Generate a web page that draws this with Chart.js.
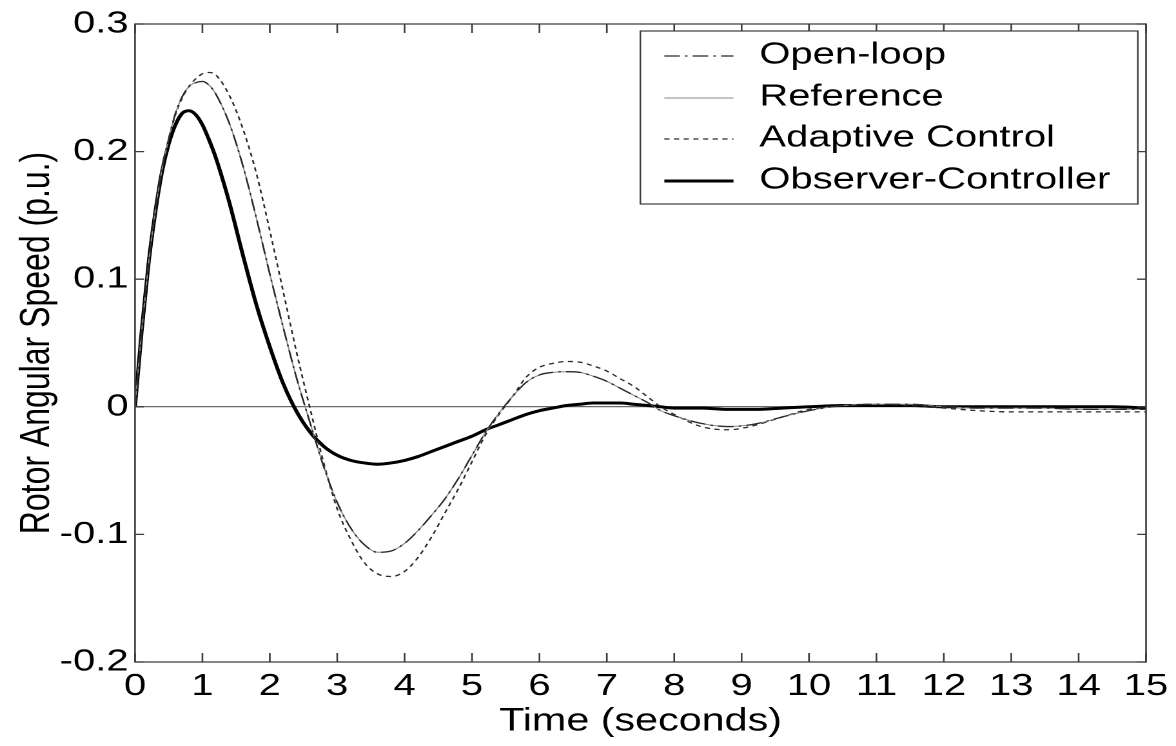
<!DOCTYPE html>
<html>
<head>
<meta charset="utf-8">
<script src="https://cdn.jsdelivr.net/npm/chart.js@4"></script>
<style>
html,body{margin:0;padding:0;background:#fff;overflow:hidden;}
#wrap{width:1176px;height:746px;overflow:hidden;background:#fff;}
canvas{display:block;transform-origin:0 0;transform:scaleX(1.2894737);}
</style>
</head>
<body>
<div id="wrap"><canvas id="c" width="912" height="746"></canvas></div>
<script>
// ---- data ----
const time = [0,0.1,0.2,0.3,0.4,0.5,0.6,0.7,0.8,0.9,1.0,1.1,1.2,1.4,1.6,1.8,2.0,2.2,2.4,2.6,2.8,3.0,3.2,3.4,3.6,3.8,4.0,4.2,4.4,4.6,4.8,5.0,5.2,5.4,5.6,5.8,6.0,6.2,6.4,6.6,6.8,7.0,7.2,7.4,7.6,7.8,8.0,8.4,8.8,9.2,9.6,10.0,10.5,11.0,11.5,12.0,12.5,13.0,13.5,14.0,14.5,15.0];

const openLoop = [0,0.060,0.112,0.153,0.186,0.210,0.230,0.243,0.251,0.254,0.255,0.252,0.245,0.222,0.189,0.148,0.104,0.062,0.022,-0.013,-0.047,-0.075,-0.095,-0.108,-0.114,-0.113,-0.107,-0.097,-0.085,-0.072,-0.056,-0.038,-0.020,-0.005,0.008,0.019,0.025,0.027,0.0275,0.027,0.024,0.020,0.0145,0.009,0.0035,-0.003,-0.007,-0.013,-0.0155,-0.0135,-0.008,-0.003,0.001,0.002,0.002,0.0,-0.001,-0.001,-0.001,-0.002,-0.002,-0.002];

const reference = [0,0.060,0.112,0.153,0.186,0.210,0.230,0.243,0.251,0.254,0.255,0.252,0.245,0.222,0.189,0.148,0.104,0.062,0.022,-0.013,-0.047,-0.075,-0.095,-0.108,-0.114,-0.113,-0.107,-0.097,-0.085,-0.072,-0.056,-0.038,-0.020,-0.005,0.008,0.019,0.025,0.027,0.0275,0.027,0.024,0.020,0.0145,0.009,0.0035,-0.003,-0.007,-0.013,-0.0155,-0.0135,-0.008,-0.003,0.001,0.002,0.002,0.0,-0.001,-0.001,-0.001,-0.002,-0.002,-0.002];

const adaptive = [0,0.060,0.112,0.153,0.186,0.210,0.229,0.242,0.251,0.257,0.261,0.262,0.260,0.244,0.218,0.183,0.138,0.090,0.042,-0.002,-0.044,-0.080,-0.104,-0.122,-0.131,-0.133,-0.129,-0.118,-0.102,-0.083,-0.064,-0.043,-0.022,-0.006,0.008,0.023,0.031,0.034,0.0355,0.035,0.032,0.028,0.022,0.016,0.008,0.000,-0.006,-0.0155,-0.018,-0.0145,-0.008,-0.002,0.001,0.002,0.001,-0.001,-0.003,-0.004,-0.004,-0.004,-0.004,-0.004];

const observer = [0,0.060,0.112,0.152,0.184,0.206,0.221,0.230,0.232,0.229,0.221,0.209,0.195,0.160,0.119,0.080,0.047,0.018,-0.004,-0.020,-0.031,-0.038,-0.042,-0.044,-0.045,-0.044,-0.042,-0.039,-0.035,-0.031,-0.027,-0.023,-0.018,-0.014,-0.010,-0.006,-0.003,-0.001,0.001,0.002,0.003,0.003,0.003,0.002,0.001,0.0,-0.001,-0.001,-0.002,-0.002,-0.001,0.0,0.001,0.001,0.001,0.0,0.0,0.0,0.0,0.0,0.0,-0.001];

const seriesLabels = ['Open-loop','Reference','Adaptive Control','Observer-Controller'];
const xTickLabels = ['0','1','2','3','4','5','6','7','8','9','10','11','12','13','14','15'];
const yTickLabels = ['-0.2','-0.1','0','0.1','0.2','0.3'];
const xTitle = 'Time (seconds)';
const yTitle = 'Rotor Angular Speed (p.u.)';

// ---- helpers ----
const pts = arr => time.map((t, i) => ({x: t, y: arr[i]}));
const FONT = '"Liberation Sans", Arial, Helvetica, sans-serif';

const axesFrame = {
  id: 'axesFrame',
  afterDatasetsDraw(chart) {
    const {ctx, chartArea: a, scales: {x, y}} = chart;
    ctx.save();
    ctx.strokeStyle = '#3c3c3c';
    ctx.lineWidth = 1.3;
    ctx.beginPath();
    ctx.rect(a.left, a.top, a.right - a.left, a.bottom - a.top);
    ctx.stroke();
    ctx.beginPath();
    x.ticks.forEach(t => {
      const px = x.getPixelForValue(t.value);
      ctx.moveTo(px, a.bottom); ctx.lineTo(px, a.bottom - 9);
      ctx.moveTo(px, a.top); ctx.lineTo(px, a.top + 9);
    });
    y.ticks.forEach(t => {
      const py = y.getPixelForValue(t.value);
      ctx.moveTo(a.left, py); ctx.lineTo(a.left + 7, py);
      ctx.moveTo(a.right, py); ctx.lineTo(a.right - 7, py);
    });
    ctx.stroke();
    ctx.restore();
  }
};

const boxLegend = {
  id: 'boxLegend',
  afterDraw(chart) {
    const {ctx} = chart;
    const L = 496.6, T = 31, R = 882.4, B = 204;
    const rows = [55, 97, 138, 180];
    ctx.save();
    ctx.fillStyle = '#fff';
    ctx.fillRect(L, T, R - L, B - T);
    ctx.strokeStyle = '#3c3c3c';
    ctx.lineWidth = 1.2;
    ctx.strokeRect(L, T, R - L, B - T);
    chart.data.datasets.forEach((ds, i) => {
      const yy = rows[i];
      ctx.beginPath();
      ctx.setLineDash(ds.borderDash || []);
      ctx.strokeStyle = ds.borderColor;
      ctx.lineWidth = ds.borderWidth;
      ctx.moveTo(515.2, yy + 1);
      ctx.lineTo(568.8, yy + 1);
      ctx.stroke();
      ctx.setLineDash([]);
      ctx.fillStyle = '#000';
      ctx.font = '31px ' + FONT;
      ctx.textBaseline = 'middle';
      ctx.textAlign = 'left';
      ctx.fillText(ds.label, 588.9, yy);
    });
    ctx.restore();
  }
};

new Chart(document.getElementById('c'), {
  type: 'line',
  data: {
    datasets: [
      {label: seriesLabels[0], data: pts(openLoop), borderColor: '#2a2a2a', borderWidth: 1.3, borderDash: [12, 4, 2, 4]},
      {label: seriesLabels[1], data: pts(reference), borderColor: '#8a8a8a', borderWidth: 1.0},
      {label: seriesLabels[2], data: pts(adaptive), borderColor: '#2a2a2a', borderWidth: 1.3, borderDash: [4, 3.5]},
      {label: seriesLabels[3], data: pts(observer), borderColor: '#000000', borderWidth: 3}
    ].map(d => Object.assign({pointRadius: 0, pointHoverRadius: 0, fill: false, cubicInterpolationMode: 'monotone'}, d))
  },
  options: {
    responsive: false,
    animation: false,
    devicePixelRatio: 2,
    layout: {padding: {left: 0, top: 24, right: 22.5, bottom: 0}},
    plugins: {legend: {display: false}, tooltip: {enabled: false}},
    events: [],
    scales: {
      x: {
        type: 'linear', min: 0, max: 15,
        border: {display: false},
        grid: {display: false, drawTicks: false},
        ticks: {stepSize: 1, color: '#000', padding: 6, maxRotation: 0, autoSkip: false,
                font: {family: FONT, size: 31},
                callback: (v, i) => xTickLabels[i]},
        title: {display: true, text: xTitle, color: '#000', font: {family: FONT, size: 32, lineHeight: 1.2}, padding: {top: 0, bottom: 5}},
        afterFit: s => { s.height = 84; }
      },
      y: {
        type: 'linear', min: -0.2, max: 0.3,
        border: {display: false},
        grid: {drawTicks: false, lineWidth: 1.2,
               color: c => (c.tick && Math.abs(c.tick.value) < 1e-9) ? '#6a6a6a' : 'rgba(0,0,0,0)'},
        ticks: {stepSize: 0.1, color: '#000', padding: 5, autoSkip: false,
                font: {family: FONT, size: 31},
                callback: (v, i) => yTickLabels[i]},
        title: {display: true, text: yTitle, color: '#000', font: {family: FONT, size: 32, lineHeight: 1.2}, padding: {top: 10, bottom: 0}},
        afterFit: s => { s.width = 104.7; }
      }
    }
  },
  plugins: [axesFrame, boxLegend]
});
</script>
</body>
</html>
